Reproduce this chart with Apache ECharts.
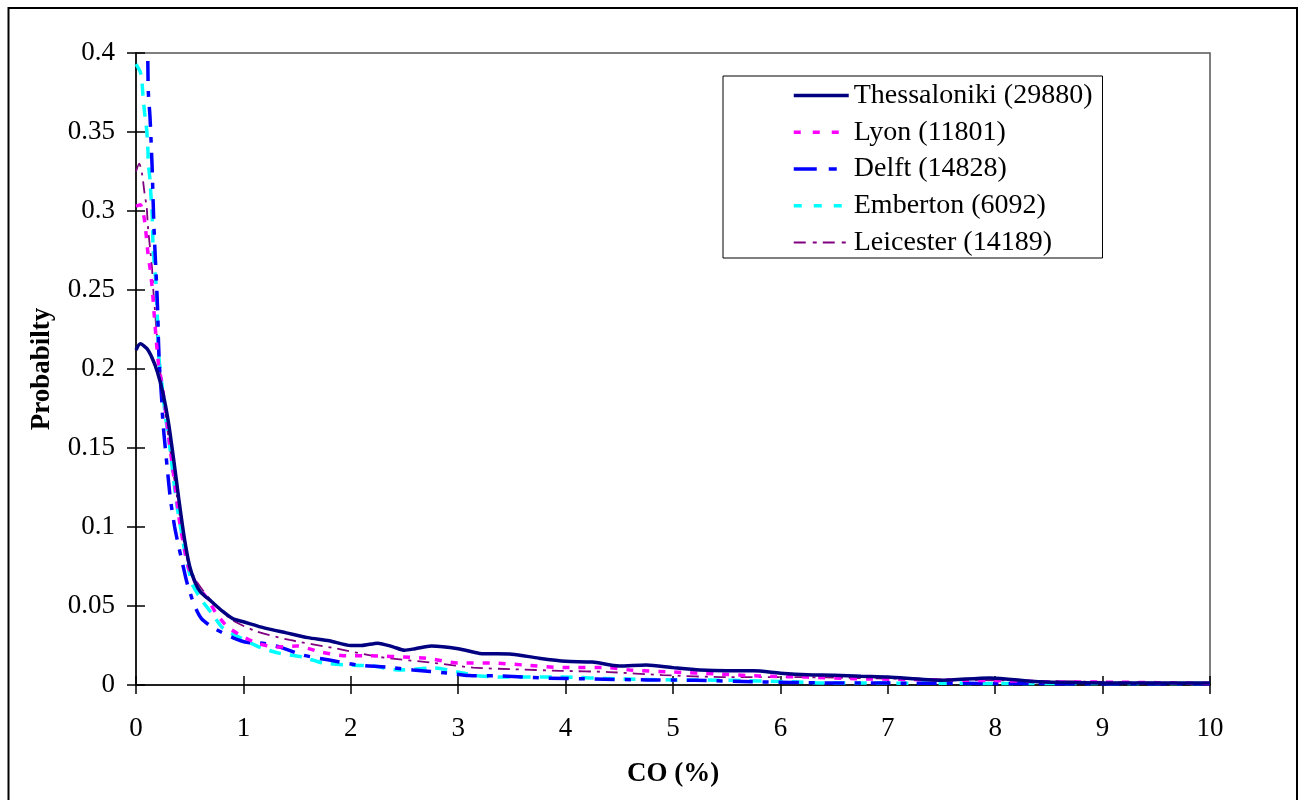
<!DOCTYPE html>
<html>
<head>
<meta charset="utf-8">
<script src="https://cdn.jsdelivr.net/npm/echarts@6/dist/echarts.min.js"></script>
<style>
html,body{margin:0;padding:0;background:#fff;}
#chart{width:1306px;height:800px;}
</style>
</head>
<body>
<div id="chart"></div>
<script>
// ---- data (x = CO %, y = probability) ----
const seriesNames = ['Thessaloniki (29880)', 'Lyon (11801)', 'Delft (14828)', 'Emberton (6092)', 'Leicester (14189)'];
const xTicks = [0,1,2,3,4,5,6,7,8,9,10];
const yTicks = [0,0.05,0.1,0.15,0.2,0.25,0.3,0.35,0.4];

const thessaloniki = [[0,0.212],[0.04,0.216],[0.1,0.213],[0.15,0.207],[0.2,0.198],[0.25,0.185],[0.3,0.167],[0.35,0.143],[0.4,0.117],[0.45,0.093],[0.5,0.075],[0.55,0.065],[0.6,0.059],[0.7,0.053],[0.8,0.047],[0.9,0.042],[1.0,0.040],[1.2,0.036],[1.4,0.033],[1.6,0.030],[1.8,0.028],[2.0,0.025],[2.1,0.025],[2.25,0.0265],[2.4,0.024],[2.5,0.022],[2.6,0.023],[2.75,0.0247],[3.0,0.023],[3.2,0.020],[3.5,0.0195],[3.75,0.017],[4.0,0.015],[4.25,0.0145],[4.5,0.012],[4.75,0.0127],[5.0,0.011],[5.25,0.0095],[5.5,0.009],[5.75,0.009],[6.0,0.0075],[6.25,0.0065],[6.5,0.0062],[6.75,0.0055],[7.0,0.005],[7.5,0.003],[7.95,0.0045],[8.4,0.002],[9.0,0.0013],[9.5,0.0013],[10,0.0012]];

const lyon = [[0,0.303],[0.04,0.304],[0.07,0.298],[0.09,0.288],[0.11,0.274],[0.13,0.264],[0.15,0.252],[0.17,0.234],[0.19,0.217],[0.21,0.203],[0.24,0.191],[0.27,0.176],[0.3,0.159],[0.34,0.138],[0.37,0.122],[0.4,0.106],[0.44,0.09],[0.49,0.074],[0.57,0.063],[0.66,0.055],[0.75,0.045],[0.85,0.037],[0.97,0.0316],[1.13,0.0264],[1.31,0.024],[1.5,0.0247],[1.71,0.021],[1.96,0.0185],[2.18,0.0185],[2.55,0.0175],[2.7,0.017],[3.0,0.014],[3.3,0.014],[3.6,0.0127],[4.0,0.011],[4.4,0.011],[4.6,0.0095],[5.0,0.0082],[5.4,0.007],[5.8,0.0057],[6.25,0.005],[6.7,0.004],[7.2,0.0035],[7.7,0.003],[8.0,0.0028],[8.5,0.002],[9.0,0.0018],[9.5,0.0015],[10,0.001]];

const delft = [[0.11,0.395],[0.115,0.375],[0.13,0.36],[0.14,0.345],[0.15,0.328],[0.16,0.305],[0.17,0.285],[0.185,0.263],[0.2,0.24],[0.21,0.216],[0.22,0.2],[0.24,0.18],[0.25,0.167],[0.27,0.152],[0.29,0.138],[0.32,0.118],[0.36,0.1],[0.39,0.09],[0.43,0.078],[0.47,0.066],[0.52,0.055],[0.56,0.048],[0.61,0.042],[0.68,0.038],[0.75,0.035],[0.9,0.030],[1.03,0.027],[1.18,0.0265],[1.34,0.024],[1.55,0.019],[1.8,0.0158],[2.06,0.0127],[2.33,0.0114],[2.58,0.0095],[2.9,0.0076],[3.1,0.006],[3.4,0.0057],[3.8,0.0044],[4.26,0.0038],[4.76,0.0032],[5.2,0.003],[5.8,0.002],[6.4,0.0013],[7.0,0.0012],[8.0,0.001],[9.0,0.0008],[10,0.0008]];

const emberton = [[0,0.393],[0.04,0.388],[0.055,0.382],[0.065,0.373],[0.08,0.362],[0.1,0.351],[0.11,0.34],[0.115,0.33],[0.13,0.32],[0.14,0.309],[0.15,0.299],[0.155,0.288],[0.16,0.275],[0.186,0.254],[0.2,0.231],[0.21,0.21],[0.24,0.191],[0.27,0.172],[0.3,0.158],[0.32,0.148],[0.35,0.13],[0.38,0.114],[0.42,0.098],[0.45,0.086],[0.49,0.073],[0.53,0.063],[0.63,0.052],[0.71,0.045],[0.81,0.036],[0.97,0.030],[1.15,0.024],[1.34,0.020],[1.55,0.0177],[1.74,0.014],[1.96,0.0127],[2.2,0.012],[2.46,0.0095],[2.77,0.0108],[3.04,0.0076],[3.2,0.0057],[3.48,0.005],[3.95,0.005],[4.5,0.0038],[5.0,0.0032],[5.5,0.003],[6.1,0.002],[6.4,0.0013],[7.0,0.0012],[8.0,0.001],[9.0,0.001],[10,0.001]];

const leicester = [[0,0.325],[0.03,0.33],[0.055,0.324],[0.08,0.311],[0.1,0.302],[0.11,0.291],[0.13,0.277],[0.15,0.263],[0.16,0.251],[0.18,0.234],[0.2,0.216],[0.22,0.201],[0.25,0.185],[0.28,0.168],[0.3,0.158],[0.34,0.138],[0.38,0.12],[0.42,0.101],[0.46,0.085],[0.5,0.074],[0.58,0.064],[0.68,0.055],[0.78,0.048],[0.9,0.041],[1.12,0.034],[1.43,0.0285],[1.84,0.0234],[2.27,0.0177],[2.77,0.014],[3.14,0.011],[3.5,0.010],[3.95,0.009],[4.4,0.0082],[4.9,0.0063],[5.5,0.005],[6.1,0.005],[6.75,0.0044],[7.5,0.0035],[8.0,0.003],[9.0,0.002],[10,0.001]];

// ---- styles ----
const FONT = "'Liberation Serif', 'Times New Roman', serif";
const colors = ['#000080', '#FF00FF', '#0000FF', '#00FFFF', '#800080'];
const widths = [3.5, 3.5, 3.5, 3.5, 1.8];
const dashes = ['solid', [7, 9], [20, 10, 6, 10], [12, 9], [12, 6, 3, 6]];
const legendDashes = ['solid', [7, 12], [23, 12, 8, 12], [8, 12], [12, 7, 4, 6]];
const datasets = [thessaloniki, lyon, delft, emberton, leicester];

const chart = echarts.init(document.getElementById('chart'), null, {renderer: 'canvas'});

const baseX = {type: 'value', min: 0, max: 10, interval: 1, splitLine: {show: false}};
const baseY = {type: 'value', min: 0, max: 0.4, interval: 0.05, splitLine: {show: false}};

const option = {
  backgroundColor: '#fff',
  animation: false,
  graphic: [{
    type: 'rect',
    shape: {x: 8.5, y: 8, width: 1288.5, height: 810},
    style: {fill: 'none', stroke: '#000', lineWidth: 2},
    silent: true, z: 100
  }],
  grid: {
    left: 136, right: 96, top: 53, bottom: 115,
    show: true, borderColor: '#555', borderWidth: 1.5, backgroundColor: 'transparent'
  },
  legend: {
    show: true,
    orient: 'vertical',
    left: 723, top: 76,
    backgroundColor: '#fff',
    borderColor: '#000', borderWidth: 1,
    padding: [5.5, 10, 1.5, 69],
    itemWidth: 55, itemHeight: 14, itemGap: 8.75,
    itemStyle: {color: 'rgba(0,0,0,0)', borderWidth: 0, opacity: 0},
    data: seriesNames.map(function (n, i) {
      return {
        name: n,
        itemStyle: {color: 'rgba(0,0,0,0)', borderWidth: 0, opacity: 0},
        lineStyle: {color: colors[i], width: widths[i], type: legendDashes[i], opacity: 1}
      };
    }),
    textStyle: {fontFamily: FONT, fontSize: 28, color: '#000', lineHeight: 28}
  },
  xAxis: [
    Object.assign({}, baseX, {
      position: 'bottom',
      name: 'CO (%)', nameLocation: 'middle', nameGap: 76,
      nameTextStyle: {fontFamily: FONT, fontSize: 27, fontWeight: 'bold', color: '#000'},
      axisLine: {show: true, onZero: false, lineStyle: {color: '#000', width: 1.5}},
      axisTick: {show: true, inside: false, length: 9, lineStyle: {color: '#000', width: 1.5}},
      axisLabel: {show: true, margin: 30, fontFamily: FONT, fontSize: 27, color: '#000'}
    }),
    Object.assign({}, baseX, {
      position: 'bottom',
      axisLine: {show: false, onZero: false},
      axisTick: {show: true, inside: true, length: 9, lineStyle: {color: '#000', width: 1.5}},
      axisLabel: {show: false}
    })
  ],
  yAxis: [
    Object.assign({}, baseY, {
      position: 'left',
      name: 'Probabilty', nameLocation: 'middle', nameGap: 80,
      nameTextStyle: {fontFamily: FONT, fontSize: 27, fontWeight: 'bold', color: '#000'},
      axisLine: {show: true, onZero: false, lineStyle: {color: '#000', width: 1.5}},
      axisTick: {show: true, inside: false, length: 9, lineStyle: {color: '#000', width: 1.5}},
      axisLabel: {show: true, margin: 21, fontFamily: FONT, fontSize: 27, color: '#000',
        formatter: function (v) { return String(+v.toFixed(2)); }}
    }),
    Object.assign({}, baseY, {
      position: 'left',
      axisLine: {show: false, onZero: false},
      axisTick: {show: true, inside: true, length: 9, lineStyle: {color: '#000', width: 1.5}},
      axisLabel: {show: false}
    })
  ],
  series: seriesNames.map(function (name, i) {
    return {
      name: name,
      type: 'line',
      xAxisIndex: 0, yAxisIndex: 0,
      data: datasets[i],
      showSymbol: false, symbol: 'none',
      smooth: 0.25,
      clip: true,
      color: colors[i],
      lineStyle: {color: colors[i], width: widths[i], type: dashes[i]},
      z: 10 - i
    };
  })
};
chart.setOption(option);
</script>
</body>
</html>
